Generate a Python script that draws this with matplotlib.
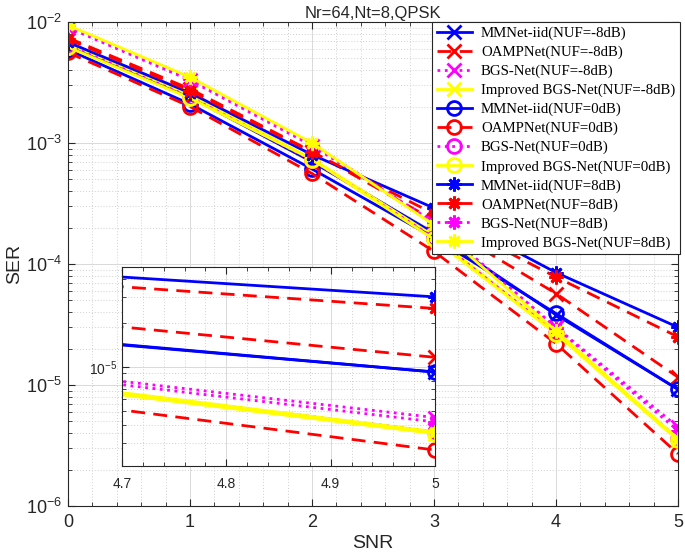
import matplotlib
matplotlib.use("Agg")
import matplotlib.pyplot as plt
import numpy as np
from matplotlib.ticker import LogLocator, MultipleLocator, NullFormatter

plt.rcParams['font.family'] = ['Liberation Sans', 'DejaVu Sans']
plt.rcParams['mathtext.default'] = 'regular'

snr = [0, 1, 2, 3, 4, 5]

mmnet_m8 = [6.3e-3, 2.4e-3, 7.0e-4, 1.80e-4, 3.80e-5, 9.2e-6]
oamp_m8  = [7.4e-3, 2.8e-3, 8.5e-4, 2.30e-4, 5.70e-5, 1.16e-5]
bgs_m8   = [9.0e-3, 3.3e-3, 9.5e-4, 2.20e-4, 3.00e-5, 4.5e-6]
impr_m8  = [6.6e-3, 2.5e-3, 7.4e-4, 1.70e-4, 2.70e-5, 3.5e-6]
mmnet_0  = [5.9e-3, 2.1e-3, 6.1e-4, 1.65e-4, 3.90e-5, 9.2e-6]
oamp_0   = [5.6e-3, 2.0e-3, 5.6e-4, 1.27e-4, 2.20e-5, 2.7e-6]
bgs_0    = [6.4e-3, 2.4e-3, 7.2e-4, 1.65e-4, 2.70e-5, 3.6e-6]
impr_0   = [6.2e-3, 2.35e-3, 7.3e-4, 1.60e-4, 2.65e-5, 3.5e-6]
mmnet_8  = [6.8e-3, 2.6e-3, 8.0e-4, 2.90e-4, 8.50e-5, 3.0e-5]
oamp_8   = [7.2e-3, 2.7e-3, 8.4e-4, 2.60e-4, 7.80e-5, 2.5e-5]
bgs_8    = [9.2e-3, 3.4e-3, 9.8e-4, 2.20e-4, 2.95e-5, 4.2e-6]
impr_8   = [9.4e-3, 3.5e-3, 1.0e-3, 2.10e-4, 2.80e-5, 3.6e-6]

labels = ['MMNet-iid(NUF=-8dB)', 'OAMPNet(NUF=-8dB)', 'BGS-Net(NUF=-8dB)',
          'Improved BGS-Net(NUF=-8dB)', 'MMNet-iid(NUF=0dB)', 'OAMPNet(NUF=0dB)',
          'BGS-Net(NUF=0dB)', 'Improved BGS-Net(NUF=0dB)', 'MMNet-iid(NUF=8dB)',
          'OAMPNet(NUF=8dB)', 'BGS-Net(NUF=8dB)', 'Improved BGS-Net(NUF=8dB)']
series = [mmnet_m8, oamp_m8, bgs_m8, impr_m8, mmnet_0, oamp_0, bgs_0, impr_0,
          mmnet_8, oamp_8, bgs_8, impr_8]
colors = ['#0000ff', '#ff0000', '#ff00ff', '#ffff00'] * 3
styles = ['-', (0, (5, 3)), ':', '-'] * 3
markers = ['x'] * 4 + ['o'] * 4 + [(8, 2, 0)] * 4

fig = plt.figure(figsize=(6.85, 5.57), dpi=100)
ax = fig.add_axes([68/685, 1-506/557, 610/685, 484/557])

def style_axes(a, fs):
    a.set_yscale('log')
    a.tick_params(which='both', direction='in', top=True, right=True,
                  colors='#262626', labelsize=fs)
    a.tick_params(which='major', length=5)
    a.tick_params(which='minor', length=3)
    for s in a.spines.values():
        s.set_color('#262626')
        s.set_linewidth(0.8)
    a.grid(True, which='major', color='#d9d9d9', linestyle='-', linewidth=0.7)
    a.grid(True, which='minor', color='#d0d0d0', linestyle=(0, (1, 2)), linewidth=0.7)
    a.set_axisbelow(True)

def draw(a, ms):
    hs = []
    for y, lab, c, ls, m in zip(series, labels, colors, styles, markers):
        h, = a.plot(snr, y, color=c, linestyle=ls, marker=m, markersize=ms,
                    markeredgewidth=2, markerfacecolor='none' if m == 'o' else c,
                    linewidth=2, label=lab)
        hs.append(h)
    return hs

style_axes(ax, 13)
ax.tick_params(axis='x', which='major', pad=6)
ax.tick_params(axis='y', which='major', pad=4)
hs = draw(ax, 10)
ax.set_xlim(0, 5)
ax.set_ylim(1e-6, 1e-2)
ax.xaxis.set_major_locator(MultipleLocator(1))
ax.xaxis.set_minor_locator(MultipleLocator(0.2))
ax.yaxis.set_major_locator(LogLocator(base=10, numticks=10))
ax.yaxis.set_minor_locator(LogLocator(base=10, subs=np.arange(2, 10), numticks=20))
ax.yaxis.set_minor_formatter(NullFormatter())
ax.set_xlabel('SNR', fontsize=14, color='#262626', labelpad=3)
ax.set_ylabel('SER', fontsize=14, color='#262626', labelpad=2)
ax.set_title('Nr=64,Nt=8,QPSK', fontsize=12, color='#262626', pad=3)

leg = ax.legend(handles=hs, loc='upper right', bbox_to_anchor=(1.003, 1.0),
                borderaxespad=0, prop={'family': 'Liberation Serif', 'size': 10.7},
                handlelength=2.4, handletextpad=0.6, labelspacing=0.37,
                borderpad=0.3, fancybox=False, framealpha=1, edgecolor='#262626')
leg.get_frame().set_linewidth(0.8)

ins = fig.add_axes([122/685, 1-466/557, 313/685, 199/557])
style_axes(ins, 10)
ins.tick_params(axis='x', which='major', pad=8)
draw(ins, 10)
ins.set_xlim(4.7, 5)
ins.set_ylim(2.1e-6, 4.8e-5)
ins.xaxis.set_minor_locator(MultipleLocator(0.02))
ins.set_xticks([4.7, 4.8, 4.9, 5.0])
ins.set_xticklabels(['4.7', '4.8', '4.9', '5'])
ins.yaxis.set_major_locator(LogLocator(base=10, numticks=10))
ins.yaxis.set_minor_locator(LogLocator(base=10, subs=np.arange(2, 10), numticks=20))
ins.yaxis.set_minor_formatter(NullFormatter())
ins.set_facecolor('white')

fig.savefig('out.png', dpi=100)
